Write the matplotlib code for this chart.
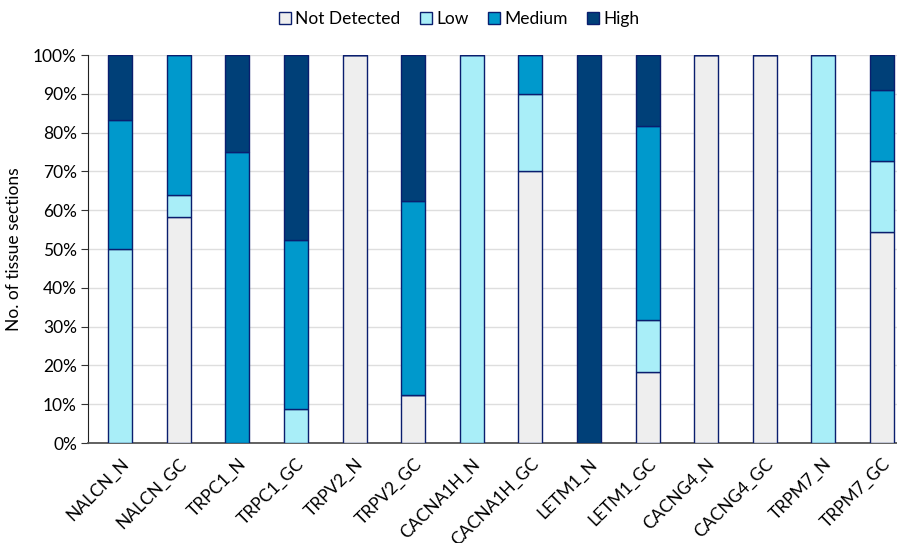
import numpy as np
import matplotlib
matplotlib.use("Agg")
import matplotlib.pyplot as plt
from matplotlib.ticker import PercentFormatter

plt.rcParams['font.family'] = ['Lato', 'DejaVu Sans']

samples = ['NALCN_N', 'NALCN_GC', 'TRPC1_N', 'TRPC1_GC', 'TRPV2_N', 'TRPV2_GC',
           'CACNA1H_N', 'CACNA1H_GC', 'LETM1_N', 'LETM1_GC', 'CACNG4_N',
           'CACNG4_GC', 'TRPM7_N', 'TRPM7_GC']

# percent of tissue sections per expression level
not_detected = [0, 58.3, 0, 0, 100, 12.5, 0, 70, 0, 18.2, 100, 100, 0, 54.5]
low = [50, 5.6, 0, 8.7, 0, 0, 100, 20, 0, 13.6, 0, 0, 100, 18.2]
medium = [33.3, 36.1, 75, 43.5, 0, 50, 0, 10, 0, 50, 0, 0, 0, 18.2]
high = [16.7, 0, 25, 47.8, 0, 37.5, 0, 0, 100, 18.2, 0, 0, 0, 9.1]

levels = ['Not Detected', 'Low', 'Medium', 'High']
colors = ['#EEEEEE', '#A9EEF8', '#0099CC', '#004078']
edge = '#0A1E6E'

fig = plt.figure(figsize=(8.97, 5.43), dpi=100)
ax = fig.add_axes([88 / 897, 100 / 543, 14.1 * 58.6 / 897, 388 / 543])

x = np.arange(len(samples))
bottom = np.zeros(len(samples))
for name, vals, c in zip(levels, [not_detected, low, medium, high], colors):
    vals = np.array(vals)
    ax.bar(x, vals, width=0.41, bottom=bottom, color=c, edgecolor=edge,
           linewidth=1.0, label=name, zorder=3)
    bottom += vals

ax.set_xlim(-0.55, 13.55)
ax.set_ylim(0, 100)
ax.set_yticks(np.arange(0, 101, 10))
ax.yaxis.set_major_formatter(PercentFormatter(decimals=0))
ax.grid(axis='y', color='#DEDEDE', linewidth=1.0, zorder=0)
ax.set_axisbelow(True)

ax.set_xticks(x)
ax.set_xticklabels(samples, rotation=45, ha='right', rotation_mode='anchor',
                   fontsize=12.5)
ax.tick_params(axis='x', length=0, pad=9)
ax.tick_params(axis='y', labelsize=12.5, length=5, color='#333333', pad=3)
ax.set_ylabel('No. of tissue sections', fontsize=12.5, labelpad=8)

for s in ['top', 'right']:
    ax.spines[s].set_visible(False)
ax.spines['left'].set_color('#222222')
ax.spines['bottom'].set_color('#555555')
ax.spines['bottom'].set_linewidth(1.3)

fig.legend(loc='center', bbox_to_anchor=(459 / 897, 1 - 19 / 543), ncol=4,
           frameon=False, fontsize=12.5, handlelength=0.7, handleheight=0.7,
           handletextpad=0.25, columnspacing=1.1)

fig.savefig('out.png', dpi=100)
